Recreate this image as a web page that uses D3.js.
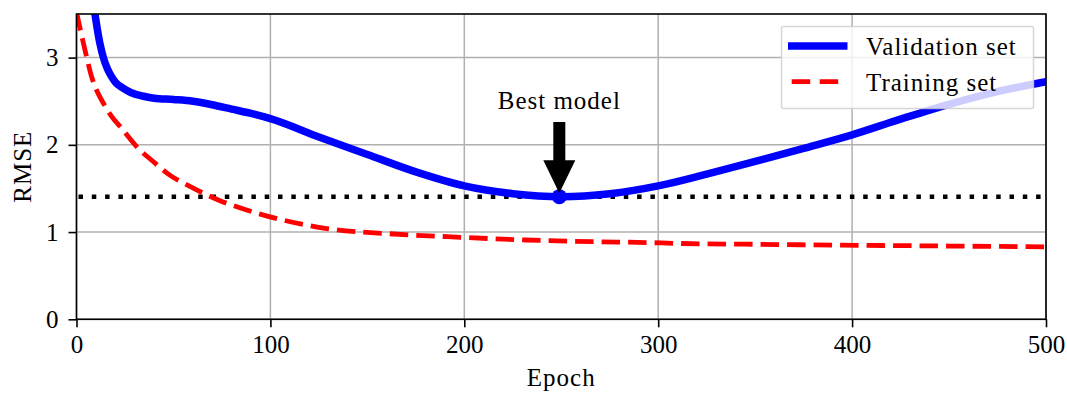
<!DOCTYPE html>
<html>
<head>
<meta charset="utf-8">
<script src="https://cdn.jsdelivr.net/npm/d3@7"></script>
<style>
  html, body { margin: 0; padding: 0; background: #fff; }
  svg text { font-family: "Liberation Serif", "DejaVu Serif", serif; fill: #000; }
  .label { letter-spacing: 1px; }
</style>
</head>
<body>
<svg id="chart" width="1067" height="397"></svg>
<script>
// Validation RMSE per epoch
const valEpochs = [8, 10, 12, 14, 16, 18, 20, 24, 28, 34, 40, 50, 60, 70, 80, 90, 100, 125, 150, 175, 200, 225, 250, 275, 300, 325, 350, 375, 400, 425, 450, 475, 500];
const valRmse   = [3.75, 3.43, 3.17, 2.99, 2.87, 2.785, 2.72, 2.65, 2.60, 2.56, 2.535, 2.52, 2.50, 2.46, 2.41, 2.36, 2.30, 2.09, 1.89, 1.69, 1.53, 1.44, 1.406, 1.44, 1.53, 1.665, 1.81, 1.96, 2.115, 2.295, 2.465, 2.61, 2.725];

// Training RMSE per epoch
const trainEpochs = [0, 1, 3.5, 5.5, 7.8, 10.5, 13.8, 18, 22.5, 31, 40, 48.3, 57, 65.5, 74, 82.7, 94, 106, 129, 163.5, 198, 232, 266.7, 294, 310, 350, 394, 450, 500];
const trainRmse   = [3.52, 3.42, 3.17, 2.98, 2.78, 2.62, 2.48, 2.33, 2.21, 1.98, 1.80, 1.65, 1.54, 1.445, 1.36, 1.29, 1.21, 1.14, 1.04, 0.978, 0.94, 0.909, 0.89, 0.88, 0.87, 0.86, 0.85, 0.84, 0.83];

// Best model
const bestEpoch = 249;
const bestRmse = 1.406;

const xTicks = [0, 100, 200, 300, 400, 500];
const yTicks = [0, 1, 2, 3];
const legendLabels = ["Validation set", "Training set"];

const svg = d3.select("#chart");
const plotLeft = 76.5, plotRight = 1046, plotTop = 14, plotBottom = 319.3;
const x = d3.scaleLinear().domain([0, 500]).range([plotLeft, plotRight]);
const y = d3.scaleLinear().domain([0, 3.5]).range([plotBottom, plotTop]);

svg.append("defs").append("clipPath").attr("id", "plotclip")
  .append("rect").attr("x", plotLeft).attr("y", plotTop)
  .attr("width", plotRight - plotLeft).attr("height", plotBottom - plotTop);

// grid
const grid = svg.append("g").attr("stroke", "#b0b0b0").attr("stroke-width", 1.5);
xTicks.forEach(t => grid.append("line")
  .attr("x1", x(t)).attr("x2", x(t)).attr("y1", plotTop).attr("y2", plotBottom));
yTicks.forEach(t => grid.append("line")
  .attr("x1", plotLeft).attr("x2", plotRight).attr("y1", y(t)).attr("y2", y(t)));

const plot = svg.append("g").attr("clip-path", "url(#plotclip)");
const line = d3.line().x(d => x(d[0])).y(d => y(d[1])).curve(d3.curveMonotoneX);

// horizontal reference at the best score
plot.append("line")
  .attr("x1", plotLeft).attr("x2", plotRight)
  .attr("y1", y(bestRmse)).attr("y2", y(bestRmse))
  .attr("stroke", "#000").attr("stroke-width", 4.5)
  .attr("stroke-dasharray", "4.5 8.8").attr("stroke-dashoffset", -2);

plot.append("path")
  .datum(valEpochs.map((e, i) => [e, valRmse[i]]))
  .attr("d", line).attr("fill", "none")
  .attr("stroke", "#0000ff").attr("stroke-width", 7.5);

plot.append("path")
  .datum(trainEpochs.map((e, i) => [e, trainRmse[i]]))
  .attr("d", line).attr("fill", "none")
  .attr("stroke", "#ff0000").attr("stroke-width", 4.8)
  .attr("stroke-dasharray", "18.5 8");

// best model point
plot.append("circle")
  .attr("cx", x(bestEpoch)).attr("cy", y(bestRmse)).attr("r", 7.5)
  .attr("fill", "#0000ff");

// annotation
const tx = x(bestEpoch), ty = y(bestRmse + 1);
svg.append("text").attr("class", "label").attr("x", tx).attr("y", ty)
  .attr("text-anchor", "middle").attr("font-size", 25).text("Best model");
const shaftTop = ty + 12.5, tip = y(bestRmse) - 3.5, headTop = tip - 33;
svg.append("path")
  .attr("d", `M${tx - 6},${shaftTop} L${tx + 6},${shaftTop} L${tx + 6},${headTop} L${tx + 16},${headTop} L${tx},${tip} L${tx - 16},${headTop} L${tx - 6},${headTop} Z`)
  .attr("fill", "#000");

// axes frame
svg.append("rect").attr("x", plotLeft).attr("y", plotTop)
  .attr("width", plotRight - plotLeft).attr("height", plotBottom - plotTop)
  .attr("fill", "none").attr("stroke", "#000").attr("stroke-width", 1.6);

const xAxis = d3.axisBottom(x).tickValues(xTicks).tickSize(8).tickPadding(8).tickFormat(d3.format("d"));
const gx = svg.append("g").attr("transform", `translate(0,${plotBottom})`).call(xAxis);
const yAxis = d3.axisLeft(y).tickValues(yTicks).tickSize(8).tickPadding(10).tickFormat(d3.format("d"));
const gy = svg.append("g").attr("transform", `translate(${plotLeft},0)`).call(yAxis);
[gx, gy].forEach(g => {
  g.select(".domain").remove();
  g.selectAll(".tick line").attr("stroke", "#000").attr("stroke-width", 1.6);
  g.selectAll(".tick text").attr("font-size", 25).attr("font-family", "Liberation Serif, DejaVu Serif, serif").attr("fill", "#000");
});

svg.append("text").attr("class", "label").attr("x", (plotLeft + plotRight) / 2).attr("y", 386)
  .attr("text-anchor", "middle").attr("font-size", 25).text("Epoch");
svg.append("text").attr("class", "label")
  .attr("transform", `translate(31,${(plotTop + plotBottom) / 2}) rotate(-90)`)
  .attr("text-anchor", "middle").attr("font-size", 25).text("RMSE");

// legend
const lg = svg.append("g");
lg.append("rect").attr("x", 781.5).attr("y", 26.5).attr("width", 252).attr("height", 82).attr("rx", 2)
  .attr("fill", "rgba(255,255,255,0.8)").attr("stroke", "rgba(204,204,204,0.8)").attr("stroke-width", 1.5);
lg.append("line").attr("x1", 788).attr("x2", 847.5).attr("y1", 46).attr("y2", 46)
  .attr("stroke", "#0000ff").attr("stroke-width", 7.5);
lg.append("line").attr("x1", 791.7).attr("x2", 838.5).attr("y1", 81.7).attr("y2", 81.7)
  .attr("stroke", "#ff0000").attr("stroke-width", 4.8).attr("stroke-dasharray", "18.5 9.5");
lg.append("text").attr("class", "label").attr("x", 866).attr("y", 55).attr("font-size", 25).text(legendLabels[0]);
lg.append("text").attr("class", "label").attr("x", 866).attr("y", 91).attr("font-size", 25).text(legendLabels[1]);
</script>
</body>
</html>
